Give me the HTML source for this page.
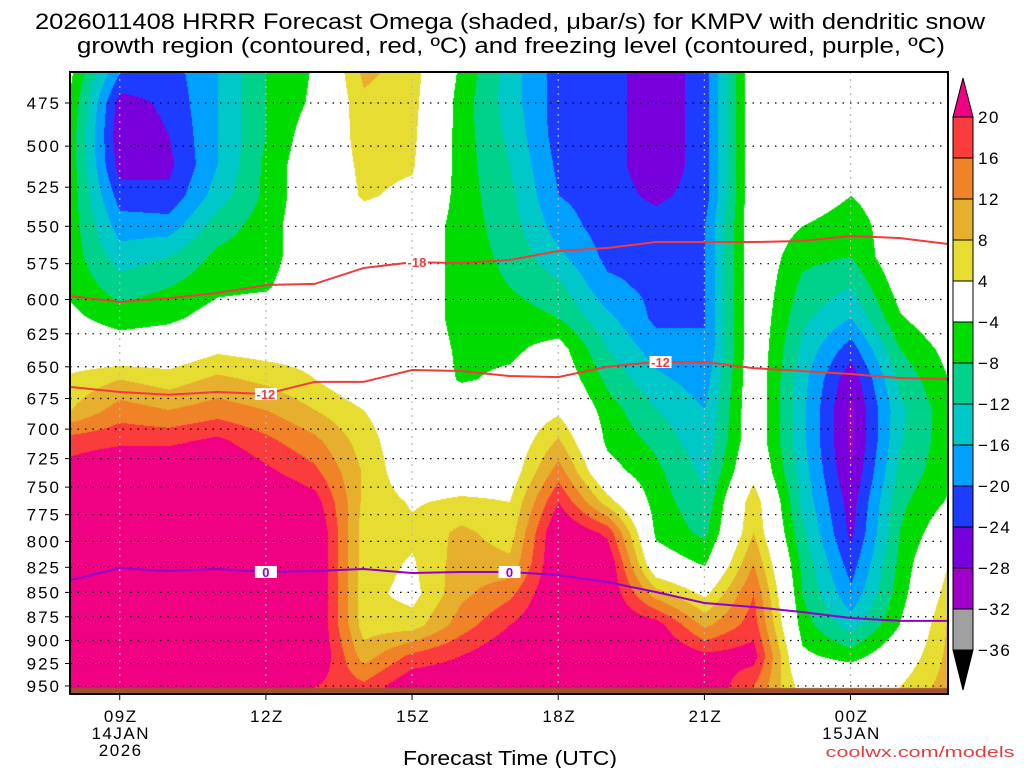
<!DOCTYPE html>
<html><head><meta charset="utf-8"><style>
html,body{margin:0;padding:0;background:#fff;}
#wrap{position:relative;width:1024px;height:768px;overflow:hidden;font-family:"Liberation Sans",sans-serif;}
#field{position:absolute;left:70px;top:72px;}
#ov{position:absolute;left:0;top:0;}
</style></head><body>
<div id="wrap">
<canvas id="field" width="878" height="622"></canvas>
<svg id="ov" width="1024" height="768"></svg>
</div>
<script>
const hours=['08Z','09Z','10Z','11Z','12Z','13Z','14Z','15Z','16Z','17Z','18Z','19Z','20Z','21Z','22Z','23Z','00Z','01Z','02Z'];
const levels=[458,475,492.7,511,530,549.6,570,591,613,636,659.5,684,709.5,736,763,791.5,821,851,883,916,950];
const tickLevels=[475,500,525,550,575,600,625,650,675,700,725,750,775,800,825,850,875,900,925,950];
const xTicks=[{h:1,l:['09Z','14JAN','2026']},{h:4,l:['12Z']},{h:7,l:['15Z']},{h:10,l:['18Z']},{h:13,l:['21Z']},{h:16,l:['00Z','15JAN']}];
const omega=[
[-3.5,-5,-6,-6,-6,-6,-6,-5,-3,0,5,8,18,22,22,22,22,22,22,22,20],
[-20,-26,-27,-26,-22,-18,-14,-10,-6,-1,8,14,19,25,25,25,25,25,25,25,22],
[-22,-23,-24,-25,-23,-18,-12,-8,-5,0,6,12,19,25,25,25,25,25,25,25,22],
[-16,-16,-16,-16,-14,-10,-7,-5,-2,3,9,14,21,25,25,25,25,25,25,25,22],
[-8,-8,-8,-7,-7,-6,-6,-4.5,-1,2,7,12,17,21,25,25,25,25,25,25,22],
[-3.5,-3,-1,0,0,0,0,0,0,2,4,8,13,17,22,25,25,25,25,25,20],
[9,7,6,5,4.5,2,0,0,0,0,0,4,6,7.5,7,6,6,5.5,6,10,17],
[6,5.5,5,4.5,3,0,0,0,0,0,0,0,0,0,3.5,5,3.5,2.5,6,17,24],
[-5,-6,-6,-6,-6,-6,-6,-6,-6,-5,-4.5,0,0,0,5,9,10,11,14,20,24],
[-14,-14,-13,-12,-11,-10,-9,-8,-6,-5,-3,0,0,1,4,6,9,15,20,24,24],
[-22,-22,-22,-21,-20,-18,-15,-11,-8,-2,0,3,8.5,14,20,25,25,25,25,25,24],
[-22,-22,-22,-22,-22,-22,-21,-19,-15,-12,-9,-6,-5,-2,6,19,24,24,24,24,24],
[-27,-27,-27,-27,-25,-22,-21,-21,-21,-18,-15,-12,-9,-7,-6,-5,-1,10,22,25,24],
[-22,-22,-22,-22,-22,-20,-20,-20,-20,-20,-18,-16,-15,-13,-11,-9,-4.5,3,11,21,24],
[0,0,0,0,0,0,0,0,0,0,0,0,0,2,7,8,12,16,18,22,16],
[0,0,0,0,0,-4,-7,-9,-11,-13,-14.5,-15,-15,-14,-13,-11,-9,-8,-6,-3,2],
[0,0,0,0,-4,-7,-8,-12,-16,-22,-27,-29,-29,-28,-26,-25,-22,-19,-14,-6,3],
[0,0,0,0,0,0,0,-2,-4.5,-8,-11,-13,-12.5,-11,-9,-8,-7,-6,-4,0,4],
[0,0,0,0,0,0,0,0,0,-2.5,-4,-5.5,-5.5,-5,-3.5,0,4,6,8.5,9,10]
];
const iso18=[597.6,601.8,599,595.4,589.8,589,578,574,574.5,572.5,566.4,564.4,560.4,560.4,560.4,559.7,556.4,557.7,561.7];
const iso12=[665.8,669.8,672,669.8,671.4,661.8,661.8,652.5,653.3,657.2,658,650,646.3,646.3,651,653.3,655.6,658.7,659.5];
const frz0=[837.6,825.7,828.6,826.7,829.6,828.6,826.7,830.6,829.6,829.6,832.6,839.6,849.6,860.8,864.9,870,876.3,879.3,879.3];
const cbBounds=[20,16,12,8,4,-4,-8,-12,-16,-20,-24,-28,-32,-36];
const cbColors=['#fa3c3c','#f08228','#e6af2d','#e6dc32','#ffffff','#00dc00','#00d28c','#00c8c8','#00a0ff','#1e3cff','#7800dc','#a000c8','#a0a0a0'];

const X0=71, DX=877/18;
function xs(t){return X0+t*DX;}
function ys(p){return 103+841*Math.log(p/475);}
function colorFor(v){
  if(v>=20) return [240,0,130];
  const bins=[[16,[250,60,60]],[12,[240,130,40]],[8,[230,175,45]],[4,[230,220,50]],[-4,[255,255,255]],[-8,[0,220,0]],[-12,[0,210,140]],[-16,[0,200,200]],[-20,[0,160,255]],[-24,[30,60,255]],[-28,[120,0,220]],[-32,[160,0,200]],[-36,[160,160,160]]];
  for(const b of bins){ if(v>=b[0]) return b[1]; }
  return [0,0,0];
}
const levY=levels.map(ys);
const cv=document.getElementById('field'), ctx=cv.getContext('2d');
const img=ctx.createImageData(878,622);
for(let py=0;py<622;py++){
  const Y=72+py;
  let l0=0; while(l0<levY.length-2 && Y>levY[l0+1]) l0++;
  let fl=(Y-levY[l0])/(levY[l0+1]-levY[l0]); fl=Math.max(0,Math.min(1,fl));
  for(let px=0;px<878;px++){
    const X=70+px; const i=(py*878+px)*4; let c;
    if(Y>=688){c=[160,82,45];}
    else{
      let t=(X-X0)/DX; t=Math.max(0,Math.min(18,t));
      let t0=Math.min(17,Math.floor(t)); let ft=t-t0;
      const v=(1-ft)*((1-fl)*omega[t0][l0]+fl*omega[t0][l0+1])+ft*((1-fl)*omega[t0+1][l0]+fl*omega[t0+1][l0+1]);
      c=colorFor(v);
    }
    img.data[i]=c[0];img.data[i+1]=c[1];img.data[i+2]=c[2];img.data[i+3]=255;
  }
}
ctx.putImageData(img,0,0);

const svg=document.getElementById('ov'), NS='http://www.w3.org/2000/svg';
function mk(tag,attrs,parent){const e=document.createElementNS(NS,tag);for(const k in attrs)e.setAttribute(k,attrs[k]);(parent||svg).appendChild(e);return e;}
const grid=mk('g',{});


tickLevels.forEach(p=>{
  const y=ys(p);
  mk('line',{x1:70,x2:948,y1:y,y2:y,stroke:'#000','stroke-width':1.2,'stroke-dasharray':'1.5 6'},grid);
  mk('line',{x1:65,x2:70,y1:y,y2:y,stroke:'#000','stroke-width':1},grid);
  const t=mk('text',{x:61,y:y+6,'text-anchor':'end','font-size':17,'letter-spacing':2,fill:'#000'});
  t.textContent=p;
  
  
});
xTicks.forEach(o=>{
  const x=xs(o.h);
  mk('line',{x1:x,x2:x,y1:72,y2:688,stroke:'#b8b8b8','stroke-width':1.2,'stroke-dasharray':'2 5'},grid);
  mk('line',{x1:x,x2:x,y1:694,y2:700,stroke:'#000','stroke-width':1},grid);
  o.l.forEach((s,k)=>{
    const t=mk('text',{x:x+1,y:722+k*17,'text-anchor':'middle','font-size':17,'letter-spacing':1.5,fill:'#000'});
    t.textContent=s;
    
    
  });
});
function line(arr,color,name){
  const pts=arr.map((p,i)=>xs(i)+','+ys(p)).join(' ');
  const e=mk('polyline',{points:pts,fill:'none',stroke:color,'stroke-width':2});
  
  
}
line(iso18,'#f03c3c','contour-minus-18');
line(iso12,'#f03c3c','contour-minus-12');
line(frz0,'#9000d0','freezing-level-0');
function lab(h,arr,txt,color){
  const x=xs(h), y=ys(arr[Math.round(h)]);
  mk('rect',{x:x-11,y:y-6,width:22,height:12,fill:'#fff'});
  const t=mk('text',{x:x,y:y+5,'text-anchor':'middle','font-size':13,'font-weight':'bold',fill:color});
  t.textContent=txt;
  
  
}
lab(7.1,iso18,'-18','#f03c3c');
lab(4,iso12,'-12','#f03c3c');
lab(12.1,iso12,'-12','#f03c3c');
lab(4,frz0,'0','#9000d0');
lab(9,frz0,'0','#9000d0');
mk('rect',{x:70,y:72,width:878,height:622,fill:'none',stroke:'#000','stroke-width':2});
const cb=mk('g',{});


const cbTop=117, step=(650-117)/13;
cbColors.forEach((c,i)=>{mk('rect',{x:953,y:cbTop+i*step,width:20,height:step,fill:c,stroke:'#000','stroke-width':1},cb);});
mk('polygon',{points:'953,117 973,117 963,78',fill:'#f00082',stroke:'#000','stroke-width':1},cb);
mk('polygon',{points:'953,650 973,650 963,690',fill:'#000',stroke:'#000','stroke-width':1},cb);
cbBounds.forEach((v,i)=>{
  const t=mk('text',{x:978,y:cbTop+i*step+6,'font-size':17,'letter-spacing':1.5,fill:'#000'},cb);
  t.textContent=v<0?'\u2212'+(-v):String(v);
  
  
});
function txt(x,y,s,size,anchor,fill,name,len){
  const a={x:x,y:y,'font-size':size,'text-anchor':anchor,fill:fill};
  if(len){a.textLength=len;a.lengthAdjust='spacingAndGlyphs';}
  const t=mk('text',a);
  t.textContent=s;
  
  
}
txt(510,29,'2026011408 HRRR Forecast Omega (shaded, \u03bcbar/s) for KMPV with dendritic snow',22,'middle','#000','title-line-1',950);
txt(511,53,'growth region (contoured, red, \u00baC) and freezing level (contoured, purple, \u00baC)',22,'middle','#000','title-line-2',868);
txt(510,765,'Forecast Time (UTC)',20,'middle','#000','x-axis-title',214);
txt(920,757,'coolwx.com/models',15,'middle','#e04040','credit',189);
</script>
</body></html>
